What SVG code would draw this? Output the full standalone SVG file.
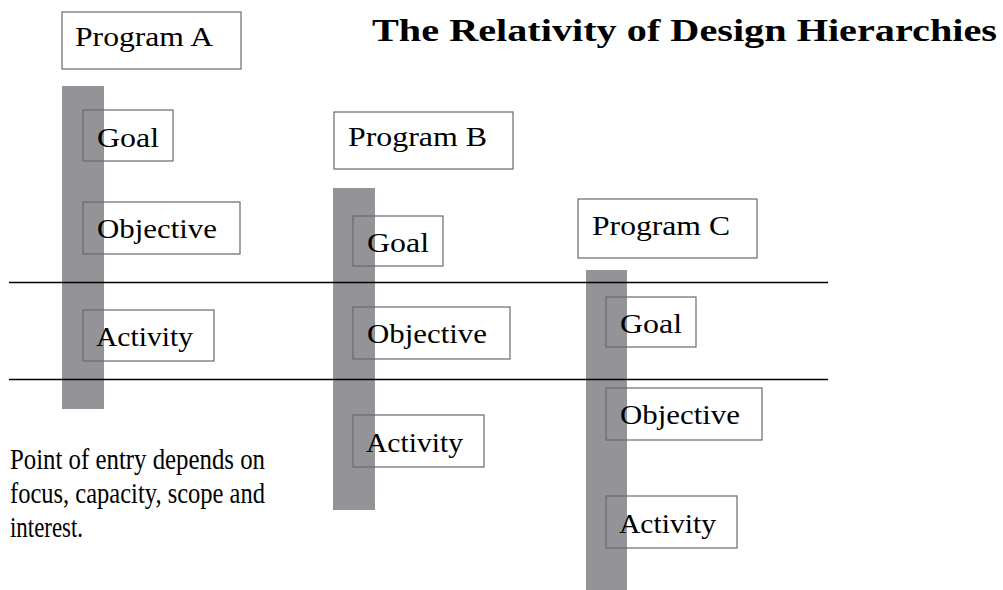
<svg xmlns="http://www.w3.org/2000/svg" width="1003" height="590" viewBox="0 0 1003 590">
<style>
.bar{fill:#939398;stroke:none}
.box{fill:none;stroke:#6a6a6a;stroke-width:1.2}
.pbox{fill:#fff;stroke:#6a6a6a;stroke-width:1.2}
.lbl{font-family:"Liberation Serif",serif;font-size:27px;fill:#000}
.title{font-family:"Liberation Serif",serif;font-size:32px;font-weight:bold;fill:#000}
.note{font-family:"Liberation Serif",serif;font-size:29px;fill:#000}
.sep{stroke:#000;stroke-width:1.3}
</style>
<rect width="1003" height="590" fill="#fff"/>
<text class="title" x="372" y="41" textLength="625" lengthAdjust="spacingAndGlyphs">The Relativity of Design Hierarchies</text>
<g id="bars">
<rect class="bar" x="62" y="86" width="42" height="323"/>
<rect class="bar" x="333" y="188" width="42" height="322"/>
<rect class="bar" x="586" y="270" width="41" height="320"/>
</g>
<g id="connectors">
<line class="sep" x1="9" y1="282.5" x2="828" y2="282.5"/>
<line class="sep" x1="9" y1="379.5" x2="828" y2="379.5"/>
</g>
<g id="programA">
<rect class="pbox" x="62" y="12" width="179" height="57"/>
<text class="lbl" x="75" y="46" textLength="138" lengthAdjust="spacingAndGlyphs">Program A</text>
</g>
<g id="goalA">
<rect class="box" x="83" y="110" width="90" height="51"/>
<text class="lbl" x="97" y="147" textLength="62" lengthAdjust="spacingAndGlyphs">Goal</text>
</g>
<g id="objectiveA">
<rect class="box" x="83" y="202" width="157" height="52"/>
<text class="lbl" x="97" y="238" textLength="120" lengthAdjust="spacingAndGlyphs">Objective</text>
</g>
<g id="activityA">
<rect class="box" x="83" y="310" width="131" height="51"/>
<text class="lbl" x="96" y="346" textLength="97" lengthAdjust="spacingAndGlyphs">Activity</text>
</g>
<g id="programB">
<rect class="pbox" x="334" y="112" width="179" height="57"/>
<text class="lbl" x="348" y="146" textLength="139" lengthAdjust="spacingAndGlyphs">Program B</text>
</g>
<g id="goalB">
<rect class="box" x="353" y="216" width="90" height="50"/>
<text class="lbl" x="367" y="252" textLength="62" lengthAdjust="spacingAndGlyphs">Goal</text>
</g>
<g id="objectiveB">
<rect class="box" x="353" y="307" width="157" height="52"/>
<text class="lbl" x="367" y="343" textLength="120" lengthAdjust="spacingAndGlyphs">Objective</text>
</g>
<g id="activityB">
<rect class="box" x="353" y="415" width="131" height="52"/>
<text class="lbl" x="366" y="452" textLength="97" lengthAdjust="spacingAndGlyphs">Activity</text>
</g>
<g id="programC">
<rect class="pbox" x="578" y="199" width="179" height="59"/>
<text class="lbl" x="592" y="235" textLength="138" lengthAdjust="spacingAndGlyphs">Program C</text>
</g>
<g id="goalC">
<rect class="box" x="606" y="297" width="90" height="50"/>
<text class="lbl" x="620" y="333" textLength="62" lengthAdjust="spacingAndGlyphs">Goal</text>
</g>
<g id="objectiveC">
<rect class="box" x="606" y="388" width="156" height="52"/>
<text class="lbl" x="620" y="424" textLength="120" lengthAdjust="spacingAndGlyphs">Objective</text>
</g>
<g id="activityC">
<rect class="box" x="606" y="496" width="131" height="52"/>
<text class="lbl" x="619" y="533" textLength="97" lengthAdjust="spacingAndGlyphs">Activity</text>
</g>
<g id="note">
<text class="note" x="10" y="469" textLength="255" lengthAdjust="spacingAndGlyphs">Point of entry depends on</text>
<text class="note" x="10" y="503" textLength="255" lengthAdjust="spacingAndGlyphs">focus, capacity, scope and</text>
<text class="note" x="10" y="537" textLength="73" lengthAdjust="spacingAndGlyphs">interest.</text>
</g>
</svg>
